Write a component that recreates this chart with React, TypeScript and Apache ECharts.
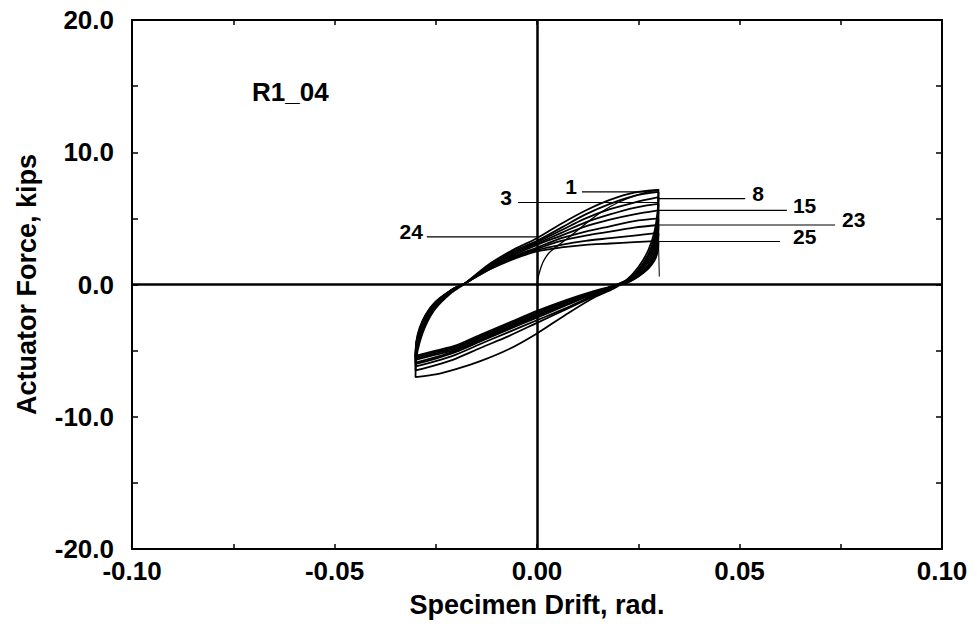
import React, { useEffect, useRef } from "react";
import * as echarts from "echarts";

// ---- data ----
const unloadX = [0.03, 0.0298, 0.029, 0.0275, 0.025, 0.022, 0.019, 0.014, 0.007, 0, -0.007, -0.014, -0.02, -0.025, -0.03];
const loadX = [-0.03, -0.0298, -0.029, -0.0275, -0.025, -0.021, -0.0177, -0.012, -0.006, 0, 0.006, 0.012, 0.018, 0.024, 0.03];

const virginX = [0, 0.0005, 0.0015, 0.003, 0.005, 0.008, 0.012, 0.016, 0.02, 0.025, 0.03];
const virginY = [0, 0.8, 1.7, 2.4, 2.9, 3.6, 4.6, 5.5, 6.2, 6.8, 7.2];

const cycleNames = ["1", "3", "8", "12", "15", "19", "23", "24", "25"];
const unloadY = [
  [7.2, 5.6, 4.0, 2.6, 1.3, 0.3, -0.3, -1.0, -2.3, -3.7, -4.9, -5.8, -6.4, -6.8, -7.0],
  [7.0, 5.2, 3.6, 2.3, 1.1, 0.3, -0.2, -0.9, -1.9, -2.9, -3.9, -4.8, -5.6, -6.1, -6.5],
  [6.6, 4.8, 3.3, 2.1, 1.0, 0.3, -0.1, -0.8, -1.8, -2.7, -3.6, -4.5, -5.3, -5.8, -6.2],
  [6.1, 4.4, 3.0, 1.9, 0.9, 0.3, -0.1, -0.7, -1.6, -2.5, -3.4, -4.3, -5.1, -5.6, -6.0],
  [5.6, 4.0, 2.7, 1.7, 0.8, 0.2, -0.1, -0.7, -1.5, -2.4, -3.3, -4.2, -5.0, -5.5, -5.9],
  [5.0, 3.6, 2.4, 1.5, 0.7, 0.2, -0.1, -0.6, -1.4, -2.3, -3.2, -4.1, -4.9, -5.3, -5.7],
  [4.5, 3.2, 2.2, 1.4, 0.7, 0.2, -0.1, -0.6, -1.3, -2.2, -3.1, -4.0, -4.8, -5.2, -5.6],
  [3.9, 2.9, 2.0, 1.3, 0.6, 0.1, -0.1, -0.6, -1.3, -2.1, -3.0, -3.9, -4.7, -5.1, -5.5],
  [3.3, 2.5, 1.8, 1.2, 0.6, 0.1, -0.1, -0.5, -1.2, -2.0, -2.9, -3.8, -4.6, -5.0, -5.4],
];
const loadY = [
  [-7.0, -5.6, -4.4, -3.1, -1.8, -0.6, 0.1, 1.5, 2.6, 3.5, 4.6, 5.6, 6.4, 6.95, 7.15],
  [-6.5, -5.2, -4.1, -2.9, -1.7, -0.5, 0.1, 1.4, 2.5, 3.3, 4.3, 5.3, 6.1, 6.7, 7.0],
  [-6.2, -5.0, -3.9, -2.8, -1.6, -0.5, 0.1, 1.4, 2.4, 3.2, 4.1, 5.0, 5.7, 6.2, 6.6],
  [-6.0, -4.8, -3.8, -2.7, -1.5, -0.4, 0.1, 1.3, 2.3, 3.1, 3.9, 4.7, 5.3, 5.8, 6.1],
  [-5.9, -4.7, -3.7, -2.6, -1.5, -0.4, 0.1, 1.3, 2.2, 3.0, 3.7, 4.4, 4.9, 5.3, 5.6],
  [-5.7, -4.6, -3.6, -2.5, -1.4, -0.4, 0.1, 1.2, 2.1, 2.8, 3.5, 4.0, 4.4, 4.8, 5.0],
  [-5.6, -4.5, -3.5, -2.4, -1.4, -0.4, 0.1, 1.2, 2.0, 2.7, 3.3, 3.7, 4.0, 4.3, 4.5],
  [-5.5, -4.4, -3.4, -2.3, -1.3, -0.4, 0.1, 1.1, 2.0, 2.6, 3.0, 3.3, 3.5, 3.7, 3.9],
  [-5.4, -4.3, -3.3, -2.3, -1.3, -0.4, 0.1, 1.1, 1.9, 2.5, 2.8, 3.0, 3.1, 3.2, 3.3],
];
const finalUnloadX = [0.03, 0.0302];
const finalUnloadY = [3.3, 0.6];

// annotation lines: label, y, x-start, x-end, label side
const annLabels = ["1", "3", "24", "8", "15", "23", "25"];
const annY = [7.0, 6.2, 3.6, 6.5, 5.6, 4.5, 3.25];
const annX1 = [0.0111, -0.0047, -0.0272, 0.03, 0.03, 0.03, 0.03];
const annX2 = [0.0296, 0.03, 0, 0.0514, 0.0617, 0.0736, 0.06];
const annSide = ["left", "left", "left", "right", "right", "right", "right"];
const annDist = [5, 6, 4, 7, 6, 7, 13];

const FONT = "'Liberation Sans', Arial, Helvetica, sans-serif";

export default function App() {
  const ref = useRef<HTMLDivElement>(null);
  useEffect(() => {
    document.body.style.margin = "0";
    if (!ref.current) return;
    const chart = echarts.init(ref.current, undefined, { renderer: "svg" });

    const curveStyle = { color: "#000", width: 1.8 };
    const series: any[] = [];

    series.push({
      type: "line",
      name: "virgin",
      data: virginX.map((x, i) => [x, virginY[i]]),
      showSymbol: false,
      smooth: 0.3,
      lineStyle: { color: "#000", width: 1.3 },
      markLine: {
        silent: true,
        symbol: "none",
        label: { show: false },
        lineStyle: { color: "#000", width: 2.5, type: "solid" },
        data: [{ xAxis: 0 }, { yAxis: 0 }],
      },
    });

    cycleNames.forEach((name, k) => {
      const pts: number[][] = [];
      unloadX.forEach((x, i) => pts.push([x, unloadY[k][i]]));
      loadX.forEach((x, i) => {
        if (i > 0) pts.push([x, loadY[k][i]]);
      });
      series.push({
        type: "line",
        name: "cycle " + name,
        data: pts,
        showSymbol: false,
        smooth: 0.3,
        lineStyle: curveStyle,
      });
    });

    series.push({
      type: "line",
      name: "final",
      data: finalUnloadX.map((x, i) => [x, finalUnloadY[i]]),
      showSymbol: false,
      lineStyle: { color: "#000", width: 1 },
    });

    annLabels.forEach((lab, k) => {
      const left = annSide[k] === "left";
      const lbl = (show: boolean) => ({
        show,
        formatter: lab,
        position: left ? "left" : "right",
        distance: annDist[k],
        offset: [0, -5],
        color: "#000",
        fontFamily: FONT,
        fontWeight: "bold",
        fontSize: 21,
      });
      series.push({
        type: "line",
        name: "ann " + lab,
        symbol: "circle",
        symbolSize: 0.01,
        showSymbol: true,
        itemStyle: { color: "rgba(0,0,0,0)" },
        lineStyle: { color: "#000", width: 1.2 },
        data: [
          { value: [annX1[k], annY[k]], label: lbl(left) },
          { value: [annX2[k], annY[k]], label: lbl(!left) },
        ],
      });
    });

    const tickStyle = { color: "#000", width: 1.5 };
    const axisLine = { show: true, onZero: false, lineStyle: { color: "#000", width: 2 } };
    const labelFont = { color: "#000", fontFamily: FONT, fontWeight: "bold" as const, fontSize: 26 };

    chart.setOption({
      animation: false,
      backgroundColor: "#fff",
      grid: { left: 132, right: 35, top: 20, bottom: 75, containLabel: false, outerBoundsMode: "none" },
      xAxis: [
        {
          type: "value",
          min: -0.1,
          max: 0.1,
          interval: 0.05,
          axisLine,
          axisTick: { show: true, inside: true, length: 5, lineStyle: tickStyle },
          minorTick: { show: true, splitNumber: 2, length: 5, lineStyle: tickStyle },
          splitLine: { show: false },
          axisLabel: {
            ...labelFont,
            margin: 9,
            formatter: (v: number) => (Math.abs(v) < 1e-9 ? 0 : v).toFixed(2),
          },
          name: "Specimen Drift, rad.",
          nameLocation: "middle",
          nameGap: 42,
          nameTextStyle: { ...labelFont, fontSize: 27 },
        },
        {
          type: "value",
          position: "top",
          min: -0.1,
          max: 0.1,
          interval: 0.05,
          axisLine,
          axisTick: { show: true, inside: true, length: 5, lineStyle: tickStyle },
          minorTick: { show: true, splitNumber: 2, length: 5, lineStyle: tickStyle },
          splitLine: { show: false },
          axisLabel: { show: false },
        },
      ],
      yAxis: [
        {
          type: "value",
          min: -20,
          max: 20,
          interval: 10,
          axisLine,
          axisTick: { show: true, inside: true, length: 6, lineStyle: tickStyle },
          minorTick: { show: true, splitNumber: 2, length: 6, lineStyle: tickStyle },
          splitLine: { show: false },
          axisLabel: {
            ...labelFont,
            margin: 18,
            formatter: (v: number) => (Math.abs(v) < 1e-9 ? 0 : v).toFixed(1),
          },
          name: "Actuator Force, kips",
          nameLocation: "middle",
          nameGap: 92,
          nameRotate: 90,
          nameTextStyle: { ...labelFont, fontSize: 27 },
        },
        {
          type: "value",
          position: "right",
          min: -20,
          max: 20,
          interval: 10,
          axisLine,
          axisTick: { show: true, inside: true, length: 6, lineStyle: tickStyle },
          minorTick: { show: true, splitNumber: 2, length: 6, lineStyle: tickStyle },
          splitLine: { show: false },
          axisLabel: { show: false },
        },
      ],
      graphic: [
        {
          type: "text",
          left: 252,
          top: 79,
          style: { text: "R1_04", fill: "#000", font: `bold 26px ${FONT}` },
        },
      ],
      series,
    });

    return () => chart.dispose();
  }, []);
  return <div ref={ref} style={{ width: 977, height: 624 }} />;
}
